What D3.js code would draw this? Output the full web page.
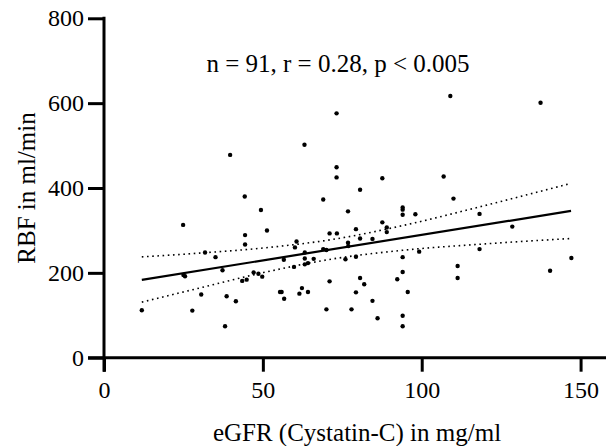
<!DOCTYPE html>
<html>
<head>
<meta charset="utf-8">
<script src="https://cdn.jsdelivr.net/npm/d3@7"></script>
<style>
  body { margin: 0; background: #fff; }
  svg text { font-family: "Liberation Serif", "Times New Roman", serif; fill: #000; }
</style>
</head>
<body>
<div id="chart"></div>
<script>
// eGFR (x) and RBF (y) for each subject
const egfr = [11.9, 24.9, 25.0, 25.5, 27.8, 30.6, 31.8, 35.1, 37.3, 38.1,
  38.6, 39.7, 41.5, 44.3, 44.4, 44.4, 43.5, 44.9, 47.1, 48.6,
  49.4, 49.8, 51.3, 55.4, 55.9, 56.7, 56.6, 59.8, 60.1, 60.6,
  62.3, 61.5, 63.1, 63.2, 63.2, 63.2, 64.2, 64.2, 66.0, 69.0,
  69.0, 70.0, 70.0, 71.0, 71.0, 73.2, 73.2, 73.2, 73.3, 76.0,
  76.8, 76.8, 76.9, 77.9, 79.3, 79.3, 79.3, 80.6, 80.6, 80.6,
  81.9, 84.5, 84.5, 86.1, 87.6, 87.6, 89.0, 89.0, 92.3, 94.0,
  94.0, 94.0, 94.0, 94.0, 94.0, 94.0, 95.6, 98.0, 99.2, 106.9,
  109.0, 110.0, 111.3, 111.3, 118.2, 118.2, 128.5, 137.4, 140.4, 147.1];
const rbf = [112, 313, 195, 192, 111, 149, 248, 237, 206, 74,
  145, 478, 133, 380, 289, 267, 181, 184, 201, 198,
  348, 191, 300, 155, 155, 139, 231, 214, 260, 274,
  164, 151, 502, 248, 234, 220, 223, 155, 233, 373,
  256, 254, 114, 180, 293, 576, 449, 425, 293, 232,
  345, 271, 263, 114, 303, 238, 154, 396, 281, 188,
  173, 280, 134, 93, 423, 319, 307, 296, 185, 354,
  349, 337, 237, 202, 99, 74, 155, 338, 250, 427,
  617, 375, 216, 188, 339, 256, 309, 601, 205, 235];

// regression line and 95% band
const fitX = [11.9, 147];
const fitY = [183.5, 346];
const bandX = [11.9, 30, 50, 72, 95, 120, 147];
const bandUpper = [237.6, 246.5, 258.5, 278.8, 313.1, 358.9, 411];
const bandLower = [131, 164.1, 200.3, 232.8, 253.9, 268.3, 281];

const xTicks = [0, 50, 100, 150];
const yTicks = [0, 200, 400, 600, 800];

const width = 606, height = 446;
const margin = { top: 18, right: 0, bottom: 88, left: 104 };
const serif = '"Liberation Serif", "Times New Roman", serif';

const svg = d3.select("#chart").append("svg")
  .attr("width", width)
  .attr("height", height);

const x = d3.scaleLinear().domain([0, 158]).range([margin.left, width - margin.right]);
const y = d3.scaleLinear().domain([0, 800]).range([height - margin.bottom - 0.3, margin.top + 0.3]);

// axes
const xAxis = svg.append("g")
  .attr("transform", "translate(0," + y(0) + ")")
  .call(d3.axisBottom(x).tickValues(xTicks).tickSize(14).tickPadding(9).tickSizeOuter(0));
xAxis.select(".domain").attr("d", "M" + (x(0) - 16) + ",0H" + width);

const yAxis = svg.append("g")
  .attr("transform", "translate(" + x(0) + ",0)")
  .call(d3.axisLeft(y).tickValues(yTicks).tickSize(16).tickPadding(4).tickSizeOuter(0));
yAxis.select(".domain").attr("d", "M0," + (y(800) - 1.5) + "V" + (y(0) + 14));

svg.selectAll(".domain, .tick line").attr("stroke", "#000").attr("stroke-width", 3);
svg.selectAll(".tick text")
  .style("font-family", serif)
  .style("font-size", "24px")
  .attr("fill", "#000");

// band
const line = d3.line().x(d => x(d[0])).y(d => y(d[1])).curve(d3.curveMonotoneX);
[bandUpper, bandLower].forEach(b => {
  svg.append("path")
    .datum(bandX.map((v, i) => [v, b[i]]))
    .attr("d", line)
    .attr("fill", "none")
    .attr("stroke", "#000")
    .attr("stroke-width", 1.6)
    .attr("stroke-dasharray", "1.6,3.6");
});

// fit line
svg.append("path")
  .datum(fitX.map((v, i) => [v, fitY[i]]))
  .attr("d", d3.line().x(d => x(d[0])).y(d => y(d[1])))
  .attr("fill", "none")
  .attr("stroke", "#000")
  .attr("stroke-width", 2.2);

// points
svg.selectAll(".dot")
  .data(egfr.map((v, i) => [v, rbf[i]]))
  .enter()
  .append("circle")
  .attr("class", "dot")
  .attr("cx", d => x(d[0]))
  .attr("cy", d => y(d[1]))
  .attr("r", 2.2)
  .attr("fill", "#000");

// labels
svg.append("text")
  .attr("x", 338)
  .attr("y", 72)
  .attr("text-anchor", "middle")
  .style("font-size", "25px")
  .text("n = 91, r = 0.28, p < 0.005");

svg.append("text")
  .attr("x", 357)
  .attr("y", 441)
  .attr("text-anchor", "middle")
  .style("font-size", "25px")
  .text("eGFR (Cystatin-C) in mg/ml");

svg.append("text")
  .attr("transform", "translate(35,188) rotate(-90)")
  .attr("text-anchor", "middle")
  .style("font-size", "25px")
  .text("RBF in ml/min");
</script>
</body>
</html>
